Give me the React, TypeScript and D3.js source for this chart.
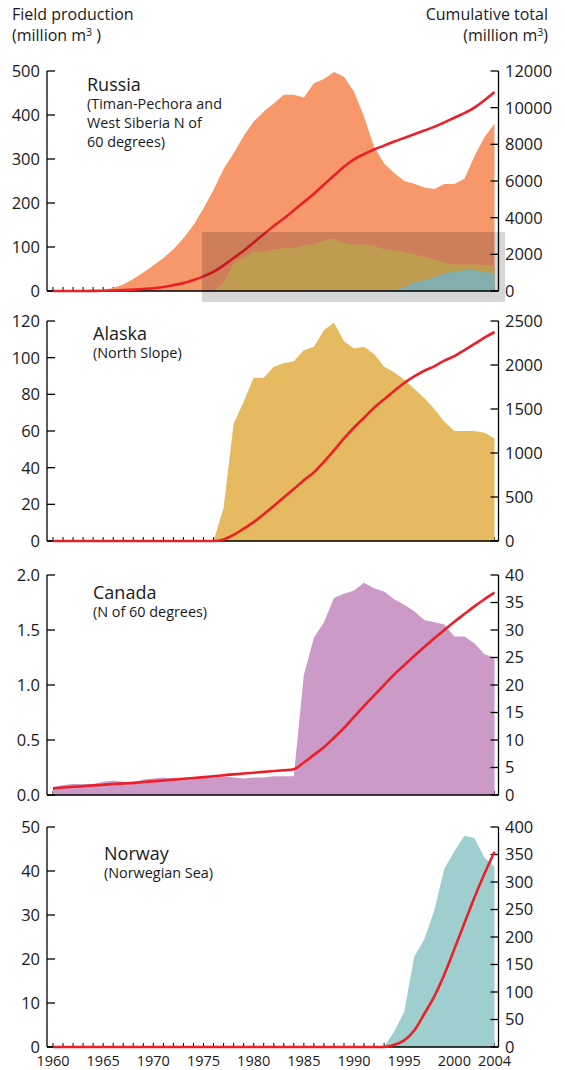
import React from 'react';
import * as d3 from 'd3';

const years = d3.range(1960, 2005);

const russiaProd = [0, 0, 0, 0, 1, 3, 7, 15, 27, 42, 58, 75, 95, 120, 150, 188, 230, 277, 313, 352, 385, 408, 426, 446, 446, 440, 472, 482, 498, 487, 453, 396, 328, 290, 268, 250, 244, 235, 232, 243, 243, 255, 306, 350, 380];
const russiaCum = [0, 0, 0, 0, 5, 15, 30, 50, 75, 110, 150, 220, 320, 430, 600, 800, 1050, 1400, 1800, 2200, 2650, 3100, 3550, 3950, 4400, 4850, 5300, 5800, 6300, 6780, 7180, 7470, 7720, 7930, 8150, 8350, 8550, 8750, 8950, 9200, 9450, 9700, 10000, 10400, 10850];

const alaskaProd = [0, 0, 0, 0, 0, 0, 0, 0, 0, 0, 0, 0, 0, 0, 0, 0, 0, 18, 64, 76, 89, 89, 95, 97, 98, 104, 106, 115, 119, 109, 105, 106, 102, 95, 92, 88, 83, 78, 72, 65, 60, 60, 60, 59, 56];
const alaskaCum = [0, 0, 0, 0, 0, 0, 0, 0, 0, 0, 0, 0, 0, 0, 0, 0, 0, 18, 70, 140, 215, 305, 398, 495, 590, 690, 780, 900, 1030, 1165, 1290, 1400, 1515, 1610, 1705, 1795, 1870, 1935, 1985, 2050, 2100, 2170, 2240, 2310, 2375];

const canadaProd = [0.07, 0.09, 0.10, 0.10, 0.10, 0.12, 0.13, 0.12, 0.11, 0.14, 0.15, 0.16, 0.15, 0.15, 0.16, 0.16, 0.17, 0.17, 0.16, 0.15, 0.16, 0.16, 0.17, 0.17, 0.17, 1.09, 1.43, 1.57, 1.79, 1.83, 1.86, 1.93, 1.88, 1.85, 1.78, 1.73, 1.67, 1.59, 1.57, 1.55, 1.44, 1.44, 1.38, 1.28, 1.25];
const canadaCum = [1.2, 1.35, 1.5, 1.6, 1.75, 1.85, 2.0, 2.1, 2.2, 2.35, 2.5, 2.65, 2.8, 2.95, 3.1, 3.25, 3.4, 3.6, 3.75, 3.9, 4.05, 4.2, 4.35, 4.5, 4.7, 5.9, 7.3, 8.7, 10.4, 12.2, 14.2, 16.2, 18.1, 20.0, 21.9, 23.6, 25.3, 26.9, 28.5, 30.0, 31.5, 32.9, 34.3, 35.6, 36.8];

const norwayProd = [0, 0, 0, 0, 0, 0, 0, 0, 0, 0, 0, 0, 0, 0, 0, 0, 0, 0, 0, 0, 0, 0, 0, 0, 0, 0, 0, 0, 0, 0, 0, 0, 0, 0, 3.5, 8, 20.5, 24.5, 31, 40.5, 44.5, 48, 47.5, 43, 41];
const norwayCum = [0, 0, 0, 0, 0, 0, 0, 0, 0, 0, 0, 0, 0, 0, 0, 0, 0, 0, 0, 0, 0, 0, 0, 0, 0, 0, 0, 0, 0, 0, 0, 0, 0, 0, 4, 12, 30, 60, 92, 132, 178, 225, 272, 315, 355];

const russiaLeftTicks = [0, 100, 200, 300, 400, 500];
const russiaRightTicks = [0, 2000, 4000, 6000, 8000, 10000, 12000];
const alaskaLeftTicks = [0, 20, 40, 60, 80, 100, 120];
const alaskaRightTicks = [0, 500, 1000, 1500, 2000, 2500];
const canadaLeftTicks = [0, 0.5, 1.0, 1.5, 2.0];
const canadaRightTicks = [0, 5, 10, 15, 20, 25, 30, 35, 40];
const norwayLeftTicks = [0, 10, 20, 30, 40, 50];
const norwayRightTicks = [0, 50, 100, 150, 200, 250, 300, 350, 400];
const yearLabels = [1960, 1965, 1970, 1975, 1980, 1985, 1990, 1995, 2000, 2004];

const COLORS = {
  russia: '#f6986a',
  alaska: '#e5ba60',
  canada: '#cb9ac7',
  norway: '#9ecfce',
  red: '#ec1f27',
};

const FONT = '"Open Sans", "Noto Sans", sans-serif';
const INK = '#1a1a1a';
const X0 = 47;
const X1 = 498.5;

const x = d3.scaleLinear().domain([1960, 2004]).range([53, 494.5]);

type Overlay = { values: number[]; color: string };
type Panel = {
  top: number;
  bottom: number;
  leftMax: number;
  rightMax: number;
  leftTicks: number[];
  rightTicks: number[];
  leftFmt: (v: number) => string;
  prod: number[];
  cum: number[];
  color: string;
  overlays?: Overlay[];
  title: string;
  sub: string[];
  titleX: number;
  titleY: number;
};

const panels: Panel[] = [
  {
    top: 71, bottom: 291, leftMax: 500, rightMax: 12000,
    leftTicks: russiaLeftTicks, rightTicks: russiaRightTicks, leftFmt: (v) => String(v),
    prod: russiaProd, cum: russiaCum, color: COLORS.russia,
    overlays: [
      { values: alaskaProd, color: COLORS.alaska },
      { values: canadaProd, color: COLORS.canada },
      { values: norwayProd, color: COLORS.norway },
    ],
    title: 'Russia', sub: ['(Timan-Pechora and', 'West Siberia N of', '60 degrees)'],
    titleX: 87, titleY: 91,
  },
  {
    top: 321, bottom: 541, leftMax: 120, rightMax: 2500,
    leftTicks: alaskaLeftTicks, rightTicks: alaskaRightTicks, leftFmt: (v) => String(v),
    prod: alaskaProd, cum: alaskaCum, color: COLORS.alaska,
    title: 'Alaska', sub: ['(North Slope)'], titleX: 93, titleY: 340,
  },
  {
    top: 575, bottom: 795, leftMax: 2, rightMax: 40,
    leftTicks: canadaLeftTicks, rightTicks: canadaRightTicks, leftFmt: (v) => v.toFixed(1),
    prod: canadaProd, cum: canadaCum, color: COLORS.canada,
    title: 'Canada', sub: ['(N of 60 degrees)'], titleX: 93, titleY: 599,
  },
  {
    top: 827, bottom: 1047, leftMax: 50, rightMax: 400,
    leftTicks: norwayLeftTicks, rightTicks: norwayRightTicks, leftFmt: (v) => String(v),
    prod: norwayProd, cum: norwayCum, color: COLORS.norway,
    title: 'Norway', sub: ['(Norwegian Sea)'], titleX: 104, titleY: 860,
  },
];

function PanelView({ p, index }: { p: Panel; index: number }) {
  const yL = d3.scaleLinear().domain([0, p.leftMax]).range([p.bottom, p.top]);
  const yR = d3.scaleLinear().domain([0, p.rightMax]).range([p.bottom, p.top]);
  const area = (vals: number[]) =>
    d3.area<number>()
      .x((_, i) => x(years[i]))
      .y0(yL(0))
      .y1((d) => yL(d))(vals) || '';
  const line = d3.line<number>()
    .x((_, i) => x(years[i]))
    .y((d) => yR(d))
    .curve(d3.curveMonotoneX)(p.cum) || '';
  const tickLen = 8;
  return (
    <g>
      {years.map((yr) => (
        <line key={yr} x1={x(yr)} x2={x(yr)} y1={p.bottom} y2={p.bottom - 4} stroke="#000" strokeWidth={1} />
      ))}
      <path d={area(p.prod)} fill={p.color} />
      {p.overlays?.map((o, i) => (
        <path key={i} d={area(o.values)} fill={o.color} />
      ))}
      <line x1={X0} x2={X0} y1={p.top} y2={p.bottom} stroke="#000" strokeWidth={1.3} />
      <line x1={X1} x2={X1} y1={p.top} y2={p.bottom} stroke="#000" strokeWidth={1.3} />
      <line x1={X0} x2={X1} y1={p.bottom} y2={p.bottom} stroke="#000" strokeWidth={1.3} />
      {p.leftTicks.map((t) => (
        <g key={'l' + t}>
          <line x1={X0} x2={X0 + tickLen} y1={yL(t)} y2={yL(t)} stroke="#000" strokeWidth={1.3} />
          <text x={40} y={yL(t)} dy="0.36em" textAnchor="end" fontSize={16.5} fontFamily={FONT} fill={INK}>
            {p.leftFmt(t)}
          </text>
        </g>
      ))}
      {p.rightTicks.map((t) => (
        <g key={'r' + t}>
          <line x1={X1 - tickLen} x2={X1} y1={yR(t)} y2={yR(t)} stroke="#000" strokeWidth={1.3} />
          <text x={505} y={yR(t)} dy="0.36em" textAnchor="start" fontSize={16.5} fontFamily={FONT} fill={INK}>
            {String(t)}
          </text>
        </g>
      ))}
      <path d={line} fill="none" stroke={COLORS.red} strokeWidth={2.6} />
      <text x={p.titleX} y={p.titleY} fontSize={18} fontFamily={FONT} fill={INK}>{p.title}</text>
      {p.sub.map((s, i) => (
        <text key={i} x={p.titleX} y={p.titleY + 18 + i * 19} fontSize={14.4} fontFamily={FONT} fill={INK}>{s}</text>
      ))}
      {index === 0 && (
        <rect x={202} y={232} width={303} height={70} fill="#000" opacity={0.16} />
      )}
    </g>
  );
}

export default function App() {
  return (
    <svg width={565} height={1070} style={{ position: 'absolute', left: 0, top: 0, background: '#fff' }}>
      <text x={12} y={20} fontSize={16} fontFamily={FONT} fill={INK}>Field production</text>
      <text x={12} y={41} fontSize={16} fontFamily={FONT} fill={INK}>
        (million m<tspan fontSize={10.5} dy={-5}>3</tspan><tspan dy={5}> )</tspan>
      </text>
      <text x={548} y={20} fontSize={16} fontFamily={FONT} fill={INK} textAnchor="end">Cumulative total</text>
      <text x={548} y={41} fontSize={16} fontFamily={FONT} fill={INK} textAnchor="end">
        (million m<tspan fontSize={10.5} dy={-5}>3</tspan><tspan dy={5}>)</tspan>
      </text>
      {panels.map((p, i) => (
        <PanelView key={i} p={p} index={i} />
      ))}
      {yearLabels.map((yr) => (
        <text key={yr} x={x(yr)} y={1066} textAnchor="middle" fontSize={14.5} fontFamily={FONT} fill={INK}>{yr}</text>
      ))}
    </svg>
  );
}
